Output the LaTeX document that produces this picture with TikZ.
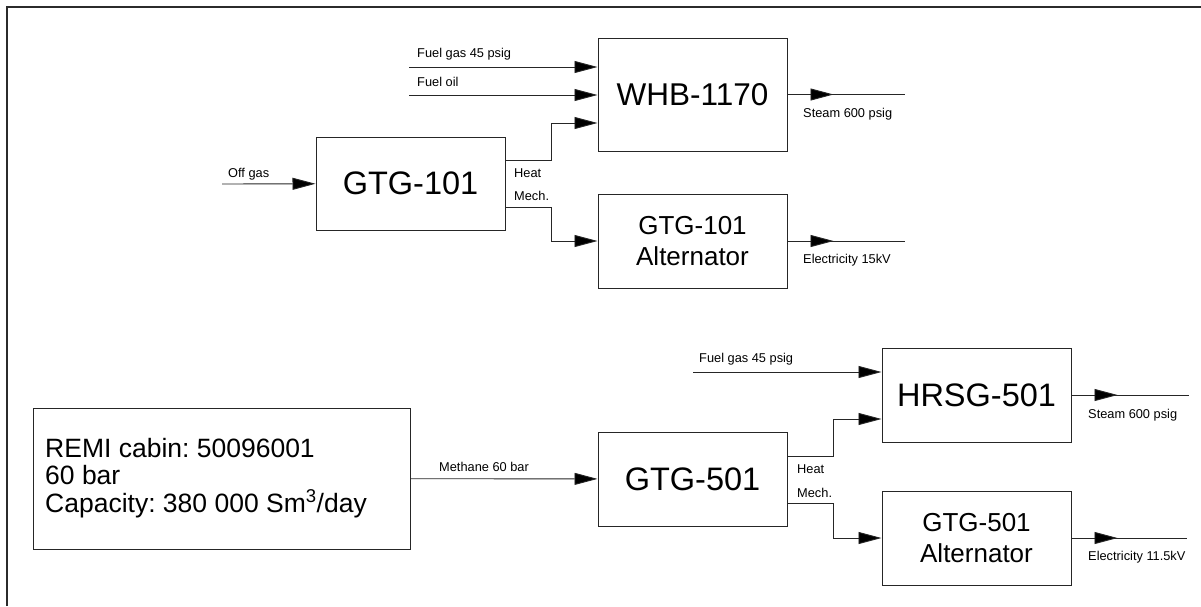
\documentclass[tikz,border=0pt]{standalone}
\usepackage{fontspec}
\setmainfont{Liberation Sans}
\usetikzlibrary{positioning, arrows.meta}
\definecolor{framegray}{HTML}{2B2B2B}
\definecolor{linegray}{HTML}{262626}
\frenchspacing

\begin{document}
\begin{tikzpicture}[x=1pt, y=-1pt,
    unit/.style={draw=linegray, line width=1pt, inner sep=0pt, align=center,
                 minimum width=189pt},
    flow/.style={draw=linegray, line width=0.9pt},
    feed/.style={flow, -{Triangle[length=23pt, width=12pt, fill=black]}},
    tag/.style={font=\fontsize{12.8}{15}\selectfont, inner sep=0pt, anchor=base west}]
  \useasboundingbox (0,0) rectangle (1201,606);
  \draw[framegray, line width=2pt] (7,606) -- (7,7) -- (1201,7);

  % upper train
  \node[unit, minimum height=93pt, font=\fontsize{32.5}{36}\selectfont] (gtgA) at (410.5,183.5) {GTG-101};
  \node[unit, minimum height=113pt, font=\fontsize{31.5}{34}\selectfont] (whb) at (692.5,94.5) {WHB-1170};
  \node[unit, minimum height=94pt, font=\fontsize{26}{31}\selectfont] (altA) at (692.5,241) {GTG-101\\Alternator};

  \coordinate (offgas) at (222,184);
  \coordinate (fuelgasA) at (409,67);
  \coordinate (fueloil) at (409,95);
  \coordinate (heatA) at (551,160);
  \coordinate (mechA) at (551,207);
  \coordinate (steamA) at (905,94.5);
  \coordinate (elecA) at (905,241);

  \draw[feed] (offgas) -- (gtgA);
  \draw[feed] (fuelgasA) -- (fuelgasA -| whb.west);
  \draw[feed] (fueloil) -- (fueloil -| whb.west);
  \draw[feed] (gtgA.east |- heatA) -- (heatA) |- (whb.west |- 0,123);
  \draw[feed] (gtgA.east |- mechA) -- (mechA) |- (altA);
  \draw[flow] (whb.east) -- (steamA);
  \draw[feed] (whb.east) -- ++(46,0);
  \draw[flow] (altA.east) -- (elecA);
  \draw[feed] (altA.east) -- ++(46,0);

  \node[tag] (offgaslbl) at (228,177) {Off gas};
  \node[tag] (fuelgasAlbl) at (417,57) {Fuel gas 45 psig};
  \node[tag] (fueloillbl) at (417,86) {Fuel oil};
  \node[tag] (heatAlbl) at (514,177) {Heat};
  \node[tag] (mechAlbl) at (514,200) {Mech.};
  \node[tag] (steamAlbl) at (803,117) {Steam 600 psig};
  \node[tag] (elecAlbl) at (803,263) {Electricity 15kV};

  % lower train
  \node[unit, minimum width=377pt, minimum height=141pt] (remi) at (221.5,478.5) {};
  \node[anchor=base west, inner sep=0pt, align=left, font=\fontsize{26.5}{27.5}\selectfont]
        (remitxt) at (45,512) {REMI cabin: 50096001\\60 bar\\Capacity: 380 000 Sm\textsuperscript{3}/day};
  \node[unit, minimum height=94pt, font=\fontsize{32.5}{36}\selectfont] (gtgB) at (692.5,479) {GTG-501};
  \node[unit, minimum height=94pt, font=\fontsize{32.5}{36}\selectfont] (hrsg) at (976.5,395) {HRSG-501};
  \node[unit, minimum height=94pt, font=\fontsize{26}{31}\selectfont] (altB) at (976.5,538) {GTG-501\\Alternator};

  \coordinate (fuelgasB) at (693,372);
  \coordinate (heatB) at (833,456);
  \coordinate (mechB) at (833,503);
  \coordinate (steamB) at (1189,395);
  \coordinate (elecB) at (1187,538);

  \draw[feed] (remi) -- (gtgB);
  \draw[feed] (fuelgasB) -- (fuelgasB -| hrsg.west);
  \draw[feed] (gtgB.east |- heatB) -- (heatB) |- (hrsg.west |- 0,419);
  \draw[feed] (gtgB.east |- mechB) -- (mechB) |- (altB);
  \draw[flow] (hrsg.east) -- (steamB);
  \draw[feed] (hrsg.east) -- ++(46,0);
  \draw[flow] (altB.east) -- (elecB);
  \draw[feed] (altB.east) -- ++(46,0);

  \node[tag] (methanelbl) at (439,471) {Methane 60 bar};
  \node[tag] (fuelgasBlbl) at (699,362) {Fuel gas 45 psig};
  \node[tag] (heatBlbl) at (797,473) {Heat};
  \node[tag] (mechBlbl) at (797,497) {Mech.};
  \node[tag] (steamBlbl) at (1088,418) {Steam 600 psig};
  \node[tag] (elecBlbl) at (1088,560) {Electricity 11.5kV};
\end{tikzpicture}
\end{document}
